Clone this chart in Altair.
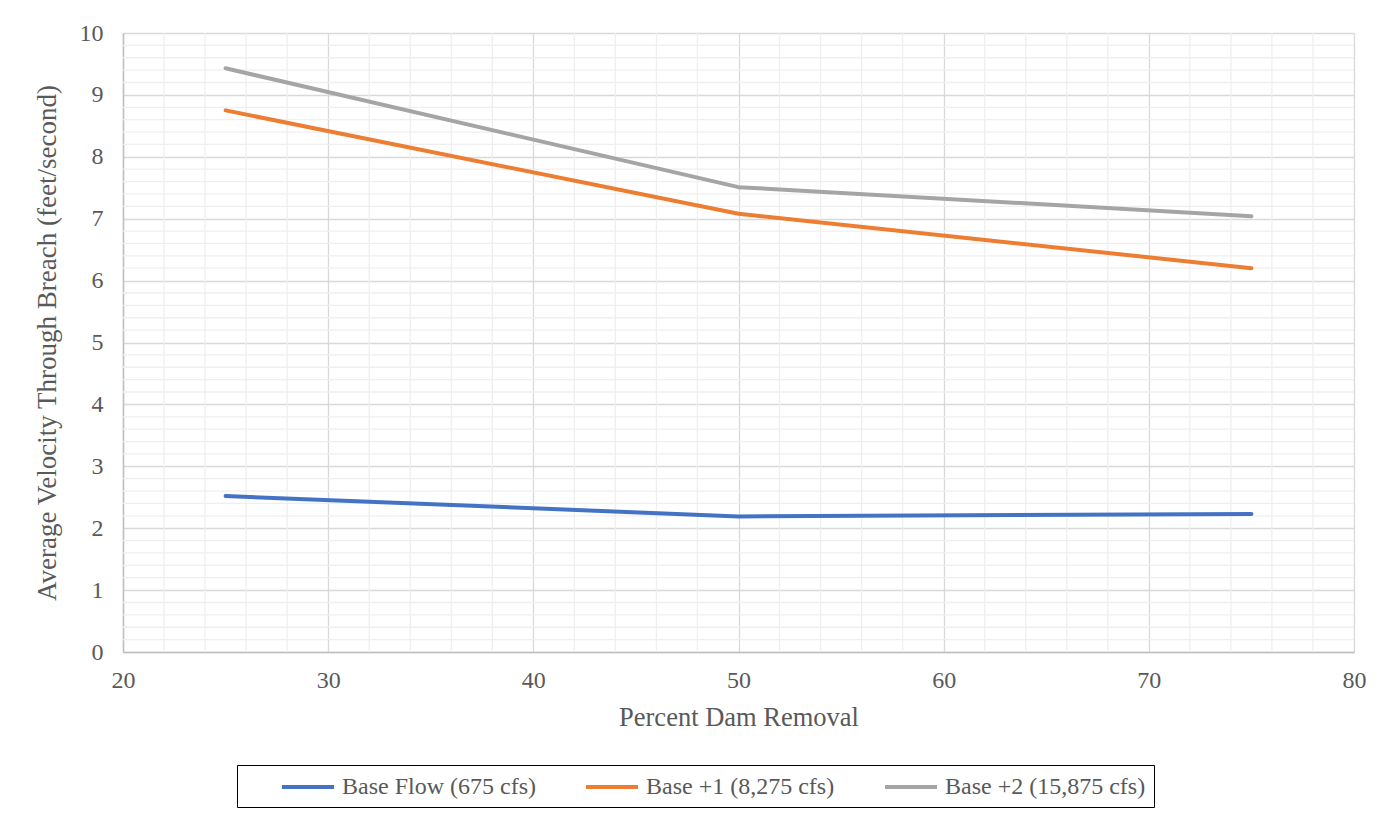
import altair as alt
import pandas as pd

# Data
percent_removal = [25, 50, 75]
base_flow = [2.52, 2.19, 2.23]
base_plus1 = [8.75, 7.08, 6.20]
base_plus2 = [9.43, 7.51, 7.04]
series_names = ["Base Flow (675 cfs)", "Base +1 (8,275 cfs)", "Base +2 (15,875 cfs)"]
series_colors = ["#4472C4", "#ED7D31", "#A5A5A5"]

x_major = [20, 30, 40, 50, 60, 70, 80]
y_major = [0, 1, 2, 3, 4, 5, 6, 7, 8, 9, 10]
x_minor = [v for v in range(20, 81, 2) if v % 10 != 0]
y_minor = [round(v * 0.2, 1) for v in range(0, 51) if v % 5 != 0]

rows = []
for name, vals in zip(series_names, [base_flow, base_plus1, base_plus2]):
    for x, y in zip(percent_removal, vals):
        rows.append({"Percent": x, "Velocity": y, "Series": name})
df = pd.DataFrame(rows)

xscale = alt.Scale(domain=[20, 80], nice=False, zero=False)
yscale = alt.Scale(domain=[0, 10], nice=False)

FONT = "Liberation Serif"
TXT = "#595959"
NBSP = "\u00a0"

x_axis = alt.Axis(
    title="Percent Dam Removal",
    values=x_major,
    grid=True,
    gridColor="#d9d9d9",
    gridWidth=1.3,
    domainColor="#bfbfbf",
    domainWidth=1.5,
    ticks=False,
    labelFlush=False,
    labelFont=FONT,
    labelFontSize=24,
    labelColor=TXT,
    labelPadding=16,
    titleFont=FONT,
    titleFontSize=26.5,
    titleFontWeight="normal",
    titleColor=TXT,
    titlePadding=12,
)
y_axis = alt.Axis(
    title="Average Velocity Through Breach (feet/second)",
    values=y_major,
    grid=True,
    gridColor="#d9d9d9",
    gridWidth=1.3,
    domainColor="#bfbfbf",
    domainWidth=1.5,
    ticks=False,
    labelFlush=False,
    labelFont=FONT,
    labelFontSize=24,
    labelColor=TXT,
    labelPadding=20,
    titleFont=FONT,
    titleFontSize=27,
    titleFontWeight="normal",
    titleColor=TXT,
    titlePadding=18,
)

minor_x = alt.Chart(pd.DataFrame({"Percent": x_minor})).mark_rule(
    color="#efefef", strokeWidth=1.3
).encode(x=alt.X("Percent:Q", scale=xscale, axis=x_axis))

minor_y = alt.Chart(pd.DataFrame({"Velocity": y_minor})).mark_rule(
    color="#efefef", strokeWidth=1.3
).encode(y=alt.Y("Velocity:Q", scale=yscale, axis=y_axis))

last_name = series_names[-1]

lines = alt.Chart(df).mark_line(strokeWidth=4, strokeCap="round", strokeJoin="round").encode(
    x=alt.X("Percent:Q", scale=xscale, axis=x_axis),
    y=alt.Y("Velocity:Q", scale=yscale, axis=y_axis),
    color=alt.Color(
        "Series:N",
        scale=alt.Scale(domain=series_names, range=series_colors),
        sort=series_names,
        legend=alt.Legend(
            title=NBSP,
            titleOrient="left",
            titleFont=FONT,
            titleFontSize=24,
            titlePadding=35,
            orient="none",
            legendX=114,
            legendY=732,
            direction="horizontal",
            columns=3,
            symbolType="M-1,0L3.333,0",
            symbolSize=576,
            symbolStrokeWidth=4,
            labelFont=FONT,
            labelFontSize=24,
            labelColor=TXT,
            labelOffset=34,
            labelExpr=f"datum.value == '{last_name}' ? datum.label + '{NBSP * 8}' : datum.label",
            columnPadding=42,
            padding=8,
            strokeColor="#000000",
            labelLimit=400,
        ),
    ),
)

chart = (
    alt.layer(minor_x, minor_y, lines)
    .properties(
        width=1231,
        height=619,
        autosize=alt.AutoSizeParams(type="none"),
        padding={"left": 115, "top": 25, "right": 26, "bottom": 160},
        background="white",
    )
    .configure_view(stroke=None)
)

chart.save("out.html", embed_options={"renderer": "svg", "actions": False})
